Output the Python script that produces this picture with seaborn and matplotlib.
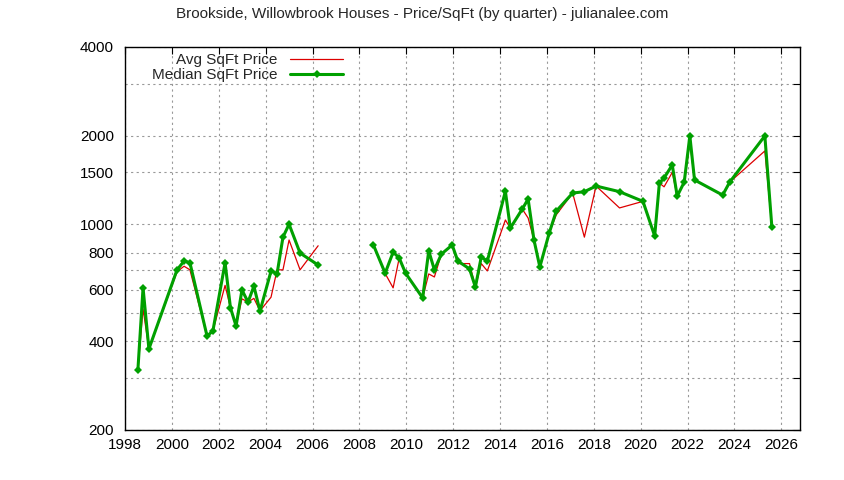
import matplotlib
matplotlib.use("Agg")
import matplotlib.pyplot as plt
from matplotlib.lines import Line2D
import seaborn as sns
import pandas as pd
import numpy as np

years = [1998.55,1998.77,1999.02,2000.22,2000.52,2000.77,2001.5,2001.75,2002.27,2002.5,2002.74,2002.99,
         2003.25,2003.5,2003.76,2004.23,2004.49,2004.74,2005.0,2005.47,2006.24,
         2008.6,2009.1,2009.44,2009.7,2009.97,2010.7,2010.96,2011.2,2011.5,2011.96,2012.2,2012.7,2012.95,
         2013.2,2013.46,2014.23,2014.44,2014.95,2015.2,2015.45,2015.7,2016.1,2016.4,
         2017.1,2017.6,2018.1,2019.1,2020.1,2020.6,2020.8,2021.0,2021.35,2021.56,2021.86,2022.1,2022.3,
         2023.5,2023.8,2025.3,2025.6]
median = [320,608,377,700,750,740,417,434,740,520,451,598,544,616,507,693,680,904,1000,798,727,
          850,682,804,768,682,562,812,700,792,850,750,705,612,774,750,1294,970,1126,1218,884,716,934,1108,
          1276,1290,1348,1290,1196,912,1380,1436,1590,1246,1390,1996,1414,1256,1390,1996,978]
avg = [320,516,377,690,720,700,417,434,620,520,451,558,544,560,508,565,700,700,884,700,845,
       850,680,608,768,682,562,678,662,792,850,735,735,612,735,694,1034,970,1126,1050,884,716,934,1076,
       1276,904,1348,1136,1196,912,1380,1340,1500,1246,1390,1900,1414,1256,1390,1774,978]
segment = [0]*21 + [1]*40

df = pd.DataFrame({"year": years, "median": median, "avg": avg, "seg": segment})

sns.set_style("white")
plt.rcParams['font.family'] = ['Liberation Sans', 'DejaVu Sans']
fig = plt.figure(figsize=(8.44, 4.8), dpi=100)
ax = fig.add_axes([125/844, 1-430/480, 675/844, 383/480])

red, green = "#dd0000", "#00a000"
sns.lineplot(data=df, x="year", y="avg", units="seg", estimator=None, sort=False,
             color=red, lw=0.9, ax=ax, legend=False)
sns.lineplot(data=df, x="year", y="median", units="seg", estimator=None, sort=False,
             color=green, lw=2.2, marker="D", markersize=4, markeredgewidth=0,
             ax=ax, legend=False)

ax.set_yscale("log")
ax.set_ylim(200, 4000)
ax.set_xlim(1998, 2026.8)
yt = [200,300,400,500,600,700,800,1000,1500,2000,3000,4000]
ax.set_yticks(yt)
ax.set_yticklabels([str(v) if v not in (300,500,700,3000) else "" for v in yt])
ax.yaxis.set_minor_locator(matplotlib.ticker.NullLocator())
ax.set_xticks(range(1998, 2027, 2))
ax.grid(True, color="#999999", linestyle=(0,(2,3)), lw=0.8)
for s in ax.spines.values():
    s.set_color("black"); s.set_linewidth(1)
ax.tick_params(direction="in", length=5, labelsize=11, colors="black")
ax.tick_params(axis="y", pad=8)
ax.tick_params(axis="x", pad=6)
ax.tick_params(axis="both", which="both", top=True, right=True)
ax.set_xlabel(""); ax.set_ylabel("")
fig.text(0.5, 1-14/480, "Brookside, Willowbrook Houses - Price/SqFt (by quarter) - julianalee.com",
         ha="center", va="center", fontsize=11)
handles = [Line2D([], [], color=red, lw=0.9),
           Line2D([], [], color=green, lw=2.2, marker="D", markersize=4, markeredgewidth=0)]
ax.legend(handles, ["Avg SqFt Price", "Median SqFt Price"], loc="upper left", frameon=False,
          fontsize=11, markerfirst=False, bbox_to_anchor=(0.02, 1.02), handlelength=3.5,
          labelspacing=0.05)
fig.savefig("out.png", dpi=100)
